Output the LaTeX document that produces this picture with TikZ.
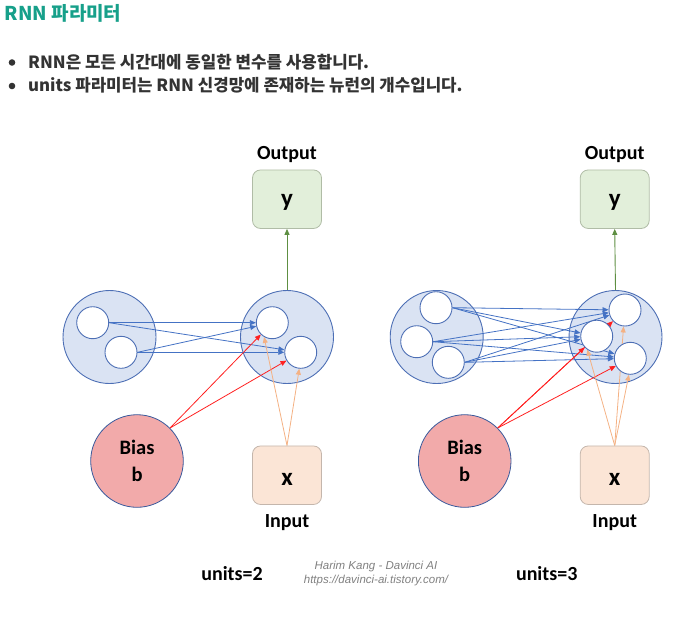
\documentclass[tikz,border=0pt]{standalone}
\usepackage{fontspec}
\setmainfont{Carlito}
\newfontfamily\kr{Noto Sans CJK KR}
\newfontfamily\arialf{Liberation Sans}
\usetikzlibrary{arrows.meta}
\definecolor{titlecol}{HTML}{17A08A}
\definecolor{txtcol}{HTML}{333333}
\definecolor{bigfill}{HTML}{DAE3F3}
\definecolor{bigborder}{HTML}{4D6FB5}
\definecolor{bluearr}{HTML}{4472C4}
\definecolor{redarr}{HTML}{FF2020}
\definecolor{orgarr}{HTML}{F4B183}
\definecolor{greenarr}{HTML}{5E8F42}
\definecolor{yfill}{HTML}{E2EFDA}
\definecolor{yborder}{HTML}{B0BCA6}
\definecolor{xfill}{HTML}{FBE5D6}
\definecolor{xborder}{HTML}{C4B6AC}
\definecolor{biasfill}{HTML}{F2AAAA}
\definecolor{biasborder}{HTML}{3A5A9C}
\pgfdeclarelayer{bglayer}
\pgfdeclarelayer{midlayer}
\pgfsetlayers{bglayer,midlayer,main}
\tikzset{
  bigc/.style={circle, draw=bigborder, fill=bigfill, line width=0.9pt, minimum size=93pt, inner sep=0pt},
  smallc/.style={circle, draw=bigborder, fill=white, line width=0.9pt, minimum size=32pt, inner sep=0pt},
  biasc/.style={circle, draw=biasborder, fill=biasfill, line width=0.8pt, minimum size=92.6pt, inner sep=0pt, align=center, font=\fontsize{20.5}{27.5}\selectfont\bfseries},
  ybox/.style={rectangle, rounded corners=8pt, draw=yborder, fill=yfill, line width=0.8pt, minimum width=69pt, minimum height=58.5pt, inner sep=0pt, text height=15.6pt, text depth=2pt, font=\fontsize{25}{30}\selectfont\bfseries},
  xbox/.style={rectangle, rounded corners=8pt, draw=xborder, fill=xfill, line width=0.8pt, minimum width=69pt, minimum height=58.5pt, inner sep=0pt, text height=21.6pt, text depth=2pt, font=\fontsize{25}{30}\selectfont\bfseries},
  lab/.style={anchor=base, inner sep=0pt, font=\fontsize{20}{24}\selectfont\bfseries, text=black},
  tip/.style={-{Triangle[length=6pt,width=5pt]}},
  barr/.style={tip, draw=bluearr, line width=0.8pt},
  rarr/.style={tip, draw=redarr, line width=0.8pt},
  oarr/.style={tip, draw=orgarr, line width=0.8pt},
  garr/.style={tip, draw=greenarr, line width=0.9pt},
  bline/.style={inner sep=0pt, anchor=base west, text=txtcol, font=\kr\fontsize{16.8}{19}\selectfont\bfseries},
  wm/.style={inner sep=0pt, anchor=base, text=gray, font=\arialf\itshape\fontsize{11.5}{13}\selectfont}
}
\begin{document}
\begin{tikzpicture}[x=1pt,y=-1pt]
\useasboundingbox (0,0) rectangle (700,622);
% header
\node[inner sep=0pt, anchor=base west, text=titlecol, font=\kr\fontsize{19}{22}\selectfont\bfseries] (title) at (4.5,20) {RNN 파라미터};
\fill[txtcol] (12,62.5) circle (3.3pt);
\fill[txtcol] (12,86) circle (3.3pt);
\node[bline] (bul1) at (28,68.3) {RNN은 모든 시간대에 동일한 변수를 사용합니다.};
\node[bline] (bul2) at (28,91.5) {units 파라미터는 RNN 신경망에 존재하는 뉴런의 개수입니다.};

\begin{pgfonlayer}{bglayer}
\node[bigc] (LinA) at (109.5,337) {};
\node[bigc] (LhA) at (287,337) {};
\node[bigc] (LinB) at (436.7,337) {};
\node[bigc] (LhB) at (615.5,337) {};
\end{pgfonlayer}
% ===== left diagram (units=2)
\node[smallc] (a1) at (92.7,322.7) {};
\node[smallc] (a2) at (121,352.3) {};
\node[smallc] (p1) at (272.3,322.7) {};
\node[smallc] (p2) at (300.7,352.3) {};
\node[ybox] (yA) at (287,199.2) {y};
\node[lab] (outA) at (287,159.5) {Output};
\node[biasc] (bA) at (137,461) {Bias\\b};
\node[xbox] (xA) at (287,475.2) {x};
\node[lab] (inA) at (287,527.5) {Input};
\node[lab] (uA) at (232,580.5) {units=2};

% ===== right diagram (units=3)
\node[smallc] (c1) at (436,307.7) {};
\node[smallc] (c2) at (416.7,341.7) {};
\node[smallc] (c3) at (448.3,362.3) {};
\node[smallc] (q1) at (625,310) {};
\node[smallc] (q2) at (596.7,336.2) {};
\node[smallc] (q3) at (630.3,358.3) {};
\node[ybox] (yB) at (614.7,199.2) {y};
\node[lab] (outB) at (614.7,159.5) {Output};
\node[biasc] (bB) at (464.7,461) {Bias\\b};
\node[xbox] (xB) at (614.7,475.2) {x};
\node[lab] (inB) at (614.7,527.5) {Input};
\node[lab] (uB) at (546.7,580.5) {units=3};

% watermark
\node[wm] (wm1) at (376,569.5) {Harim Kang - Davinci AI};
\node[wm] (wm2) at (376,583) {https://davinci-ai.tistory.com/};

\begin{pgfonlayer}{midlayer}
% left arrows
\foreach \s in {a1,a2}{\foreach \t in {p1,p2}{\draw[barr] (\s.east) -- (\t);}}
\draw[rarr] (bA.45) -- (p1);
\draw[rarr] (bA.45) -- (p2);
\draw[oarr] (xA.north) -- (p1.240);
\draw[oarr] (xA.north) -- (p2.265);
\draw[garr] (LhA.north) -- (yA.south);
% right arrows
\foreach \s in {c1,c2,c3}{\foreach \t in {q1,q2,q3}{\draw[barr] (\s.east) -- (\t);}}
\draw[rarr] (bB.45) -- (q1);
\draw[rarr] (bB.45) -- (q2);
\draw[rarr] (bB.45) -- (q3);
\draw[oarr] (xB.north) -- (q1.265);
\draw[oarr] (xB.north) -- (q2.235);
\draw[oarr] (xB.north) -- (q3.265);
\draw[garr] (LhB.north) -- (yB.south);
\end{pgfonlayer}
\end{tikzpicture}
\end{document}
